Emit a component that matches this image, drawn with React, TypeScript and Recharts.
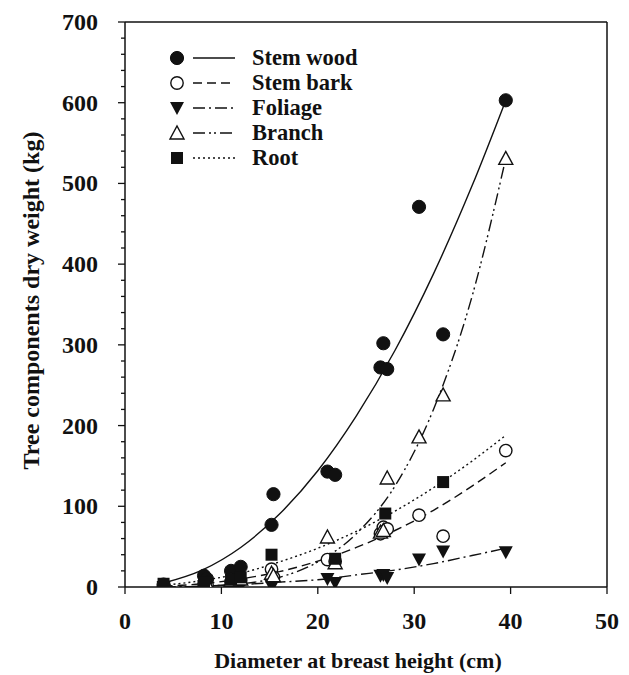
import React from 'react';
import { ComposedChart, Line, Scatter, XAxis, YAxis, ReferenceLine, Legend, Label } from 'recharts';

// Observed trees (DBH, cm)
const treeDbh = [4.0, 8.2, 8.5, 11.0, 12.0, 15.2, 15.4, 21.0, 21.8, 26.5, 26.8, 27.2, 30.5, 33.0, 39.5];
const stemWoodObs = [3, 14, 10, 20, 25, 77, 115, 143, 139, 272, 302, 270, 471, 313, 603];
const stemBarkObs = [1, 4, 3, 6, 8, 22, 12, 34, 32, 66, 74, 72, 89, 63, 169];
const foliageObs = [0, 1, 1, 2, 3, 1, 4, 10, 5, 14, 15, 11, 34, 44, 43];
const branchObs = [1, 3, 4, 8, 10, 17, 14, 62, 30, 68, 70, 135, 186, 238, 531];
const rootDbh = [4.0, 8.2, 11.0, 12.0, 15.2, 21.8, 27.0, 33.0];
const rootObs = [4, 6, 9, 12, 40, 35, 91, 130];

// Fitted curves
const curveDbh = [4, 8, 12, 16, 20, 24, 28, 32, 36, 39.5];
const stemWoodFit = [5, 21, 49, 90, 144, 212, 293, 388, 497, 603];
const stemBarkFit = [1, 4, 10, 19, 32, 49, 70, 95, 125, 154];
const foliageFit = [0, 1, 3, 6, 9, 15, 21, 29, 39, 48];
const branchFit = [0, 1, 4, 12, 31, 66, 125, 220, 360, 531];
const rootFit = [2, 8, 17, 31, 48, 69, 94, 123, 156, 188];

const xTicks = [0, 10, 20, 30, 40, 50];
const yTicks = Array.from({ length: 36 }, (_, i) => i * 20);

const seriesNames = ['Stem wood', 'Stem bark', 'Foliage', 'Branch', 'Root'];

const FONT = '"Liberation Serif", "Times New Roman", serif';
const INK = '#111';

const pts = (xs: number[], ys: number[]) => xs.map((x, i) => ({ x, y: ys[i] }));

const dashes = ['', '9 5', '12 4 2 4', '12 4 2 3 2 4', '2 3'];

const FilledCircle = (p: any) => <circle cx={p.cx} cy={p.cy} r={6.6} fill={INK} stroke={INK} />;
const OpenCircle = (p: any) => <circle cx={p.cx} cy={p.cy} r={6.2} fill="#fff" stroke={INK} strokeWidth={1.4} />;
const FilledTri = (p: any) => (
  <polygon points={`${p.cx - 7},${p.cy - 6} ${p.cx + 7},${p.cy - 6} ${p.cx},${p.cy + 7}`} fill={INK} />
);
const OpenTri = (p: any) => (
  <polygon points={`${p.cx - 7},${p.cy + 6} ${p.cx + 7},${p.cy + 6} ${p.cx},${p.cy - 7}`} fill="#fff" stroke={INK} strokeWidth={1.4} />
);
const FilledSq = (p: any) => <rect x={p.cx - 6} y={p.cy - 6} width={12} height={12} fill={INK} />;

const shapes = [FilledCircle, OpenCircle, FilledTri, OpenTri, FilledSq];

const YTick = (props: any) => {
  const { x, y, payload } = props;
  const v = payload.value;
  const major = v % 100 === 0;
  return (
    <g>
      <line x1={x} x2={x - (major ? 7 : 4)} y1={y} y2={y} stroke={INK} strokeWidth={1.3} />
      {major && (
        <text x={x - 27} y={y + 8} textAnchor="end" fontFamily={FONT} fontWeight="bold" fontSize={24} fill={INK}>
          {v}
        </text>
      )}
    </g>
  );
};

const XTick = (props: any) => {
  const { x, y, payload } = props;
  return (
    <g>
      <line x1={x} x2={x} y1={y} y2={y + 7} stroke={INK} strokeWidth={1.3} />
      <text x={x} y={y + 42} textAnchor="middle" fontFamily={FONT} fontWeight="bold" fontSize={24} fill={INK}>
        {payload.value}
      </text>
    </g>
  );
};

const LegendBox = () => (
  <svg width={240} height={140}>
    {seriesNames.map((name, i) => {
      const cy = 20 + i * 25;
      const Shape = shapes[i];
      return (
        <g key={name}>
          <Shape cx={19} cy={cy} />
          <line x1={35} x2={77} y1={cy} y2={cy} stroke={INK} strokeWidth={1.4} strokeDasharray={dashes[i] || undefined} />
          <text x={94} y={cy + 7} fontFamily={FONT} fontWeight="bold" fontSize={22.5} fill={INK}>
            {name}
          </text>
        </g>
      );
    })}
  </svg>
);

export default function App() {
  const obs = [
    pts(treeDbh, stemWoodObs),
    pts(treeDbh, stemBarkObs),
    pts(treeDbh, foliageObs),
    pts(treeDbh, branchObs),
    pts(rootDbh, rootObs),
  ];
  const fits = [stemWoodFit, stemBarkFit, foliageFit, branchFit, rootFit].map((f) => pts(curveDbh, f));
  return (
    <ComposedChart width={621} height={667} margin={{ top: 14, right: 22, bottom: 0, left: 0 }}>
      <XAxis
        type="number"
        dataKey="x"
        domain={[0, 50]}
        ticks={xTicks}
        interval={0}
        tickSize={0}
        tickMargin={0}
        tickLine={false}
        tick={<XTick />}
        height={88}
        stroke={INK}
        strokeWidth={1.5}
        allowDataOverflow
      >
        <Label
          content={(p: any) => {
            const vb = p.viewBox;
            return (
              <text x={vb.x + vb.width / 2 - 8} y={vb.y + 81} textAnchor="middle" fontFamily={FONT} fontWeight="bold" fontSize={22} fill={INK}>
                Diameter at breast height (cm)
              </text>
            );
          }}
        />
      </XAxis>
      <YAxis
        type="number"
        dataKey="y"
        domain={[0, 700]}
        ticks={yTicks}
        interval={0}
        tickSize={0}
        tickMargin={0}
        tickLine={false}
        tick={<YTick />}
        width={117}
        stroke={INK}
        strokeWidth={1.5}
        allowDataOverflow
      >
        <Label
          content={(p: any) => {
            const vb = p.viewBox;
            const cx = vb.x + 31;
            const cy = vb.y + vb.height / 2 - 4;
            return (
              <text x={cx} y={cy} transform={`rotate(-90, ${cx}, ${cy})`} textAnchor="middle" fontFamily={FONT} fontWeight="bold" fontSize={24} fill={INK}>
                Tree components dry weight (kg)
              </text>
            );
          }}
        />
      </YAxis>
      <ReferenceLine y={700} stroke={INK} strokeWidth={1.5} />
      <ReferenceLine x={50} stroke={INK} strokeWidth={1.5} />
      {fits.map((d, i) => (
        <Line
          key={'fit' + i}
          data={d}
          dataKey="y"
          type="monotone"
          stroke={INK}
          strokeWidth={1.4}
          strokeDasharray={dashes[i] || undefined}
          dot={false}
          activeDot={false}
          isAnimationActive={false}
          legendType="none"
        />
      ))}
      {obs.map((d, i) => (
        <Scatter
          key={'obs' + i}
          name={seriesNames[i]}
          data={d}
          dataKey="y"
          shape={shapes[i]}
          isAnimationActive={false}
        />
      ))}
      <Legend
        layout="vertical"
        align="center"
        verticalAlign="middle"
        content={() => <LegendBox />}
        wrapperStyle={{ position: 'absolute', left: 150, top: 30, width: 240, height: 140 }}
      />
    </ComposedChart>
  );
}
